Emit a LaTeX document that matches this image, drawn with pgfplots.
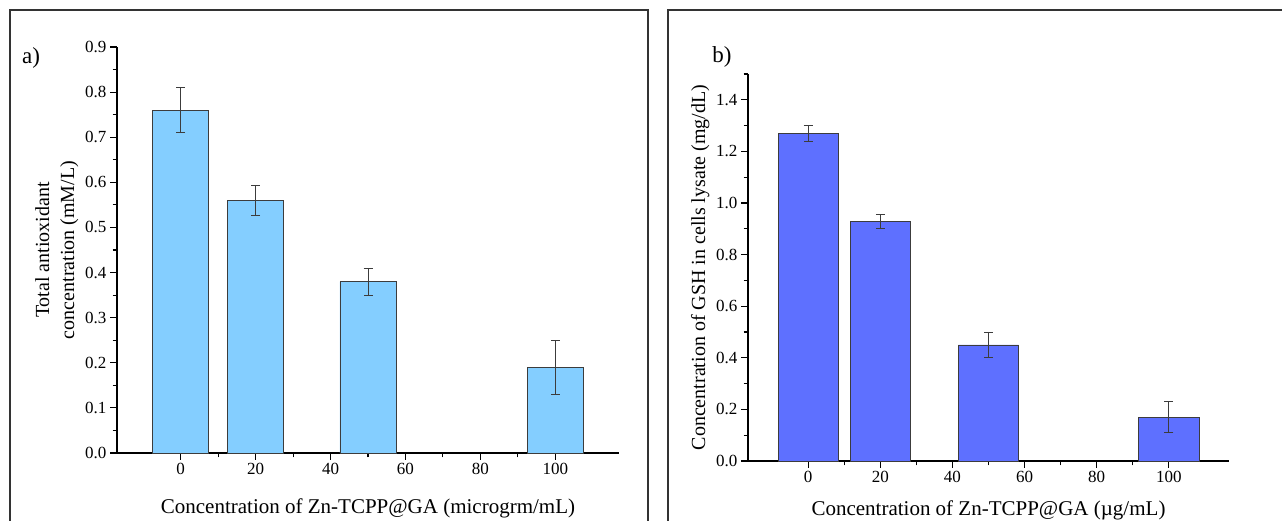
\documentclass[border=0pt]{standalone}
\usepackage{fontspec}
\setmainfont{Liberation Serif}
\usepackage{pgfplots}
\pgfplotsset{compat=1.18}
\definecolor{barA}{RGB}{132,206,255}
\definecolor{barB}{RGB}{94,112,255}
\definecolor{edgegray}{RGB}{60,60,60}

\pgfplotsset{
  panel/.style={
    scale only axis,
    axis lines=left,
    axis line style={line width=1.3pt,-},
    tick align=outside,
    major tick length=7pt,
    minor tick length=4.5pt,
    every tick/.style={black,line width=1.1pt},
    xmin=-17, xmax=117,
    xtick={0,20,40,60,80,100},
    minor x tick num=1,
    ymin=0,
    minor y tick num=1,
    tick label style={font=\fontsize{17}{19}\selectfont},
    /pgf/number format/assume math mode=true,
    yticklabel style={/pgf/number format/.cd,fixed,fixed zerofill,precision=1},
    clip=false,
  },
  errbars/.style={
    error bars/.cd, y dir=both, y explicit,
    error bar style={edgegray,line width=0.9pt},
    error mark options={rotate=90,mark size=4.5pt,edgegray,line width=0.9pt},
  },
}

\begin{document}
\begin{tikzpicture}
\useasboundingbox (0pt,0pt) rectangle (1282pt,521pt);
% panel frames (cut off at the bottom)
\draw[line width=1.3pt,black!80] (10pt,-5pt) -- (10pt,511pt) -- (648pt,511pt) -- (648pt,-5pt);
\draw[line width=1.3pt,black!80] (668pt,-5pt) -- (668pt,511pt) -- (1290pt,511pt);

\node[font=\fontsize{23}{25}\selectfont] at (31pt,463pt) {a)};
\node[font=\fontsize{23}{25}\selectfont] at (722pt,464pt) {b)};

\begin{axis}[panel,
  at={(117pt,68pt)}, anchor=south west,
  width=502pt, height=406pt,
  ymax=0.9,
  ytick={0,0.1,...,0.9},
  xlabel={Concentration of Zn-TCPP@GA (microgrm/mL)},
  ylabel={Total antioxidant\\concentration (mM/L)},
  xlabel style={font=\fontsize{21}{24}\selectfont, yshift=-17pt},
  ylabel style={font=\fontsize{20}{25}\selectfont, align=center},
]
\addplot[ybar, bar width=15, fill=barA, draw=edgegray, line width=0.7pt, errbars]
  coordinates {
  (0,0.76) +- (0,0.05)
  (20,0.56) +- (0,0.034)
  (50,0.38) +- (0,0.03)
  (100,0.19) +- (0,0.06)
};
\end{axis}

\begin{axis}[panel,
  at={(748pt,60pt)}, anchor=south west,
  width=481pt, height=387pt,
  xmin=-16.7, xmax=116.7,
  ymax=1.5,
  ytick={0,0.2,...,1.4},
  minor ytick={0.1,0.3,...,1.5},
  minor y tick num=0,
  xlabel={Concentration of Zn-TCPP@GA (µg/mL)},
  ylabel={Concentration of GSH in cells lysate (mg/dL)},
  xlabel style={font=\fontsize{21}{24}\selectfont, yshift=-11pt},
  ylabel style={font=\fontsize{20}{24}\selectfont},
]
\addplot[ybar, bar width=16.7, fill=barB, draw=edgegray, line width=0.7pt, errbars]
  coordinates {
  (0,1.27) +- (0,0.03)
  (20,0.93) +- (0,0.027)
  (50,0.45) +- (0,0.05)
  (100,0.17) +- (0,0.06)
};
\end{axis}
\end{tikzpicture}
\end{document}
